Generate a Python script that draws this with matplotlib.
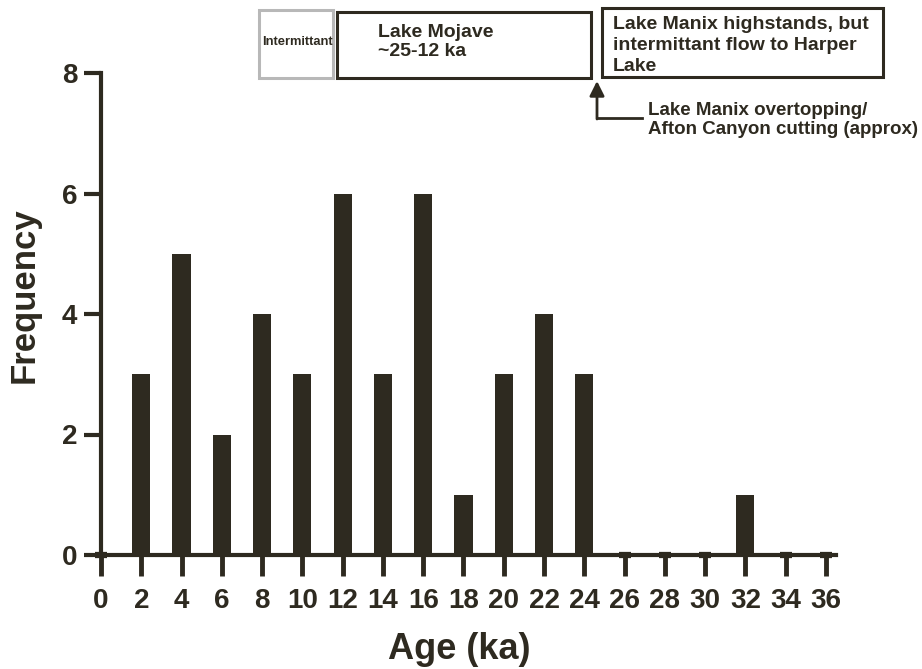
import matplotlib
matplotlib.use("Agg")
import matplotlib.pyplot as plt
from matplotlib.patches import Rectangle, FancyArrowPatch

plt.rcParams['font.family'] = ['Liberation Sans', 'DejaVu Sans']
plt.rcParams['font.weight'] = 'bold'

# Age bins (ka) and number of dated samples in each
ages = [0, 2, 4, 6, 8, 10, 12, 14, 16, 18, 20, 22, 24, 26, 28, 30, 32, 34, 36]
frequency = [0, 3, 5, 2, 4, 3, 6, 3, 6, 1, 3, 4, 3, 0, 0, 0, 1, 0, 0]
y_ticks = [0, 2, 4, 6, 8]

INK = '#2e2a20'
W, H = 922, 669
fig = plt.figure(figsize=(W / 100, H / 100), dpi=100)

left, right, top, bottom = 101, 836, 73, 555
ax = fig.add_axes([left / W, 1 - bottom / H, (right - left) / W, (bottom - top) / H])

# empty bins drawn as a thin stub on the baseline
widths = [0.9 if f else 0.6 for f in frequency]
lws = [0 if f else 4.5 for f in frequency]
ax.bar(ages, frequency, width=widths, color=INK, edgecolor=INK,
       linewidth=lws, clip_on=False, zorder=3)

ax.set_xlim(0, 36.5)
ax.set_ylim(0, 8)
ax.set_xticks(ages)
ax.set_yticks(y_ticks)

for s in ['top', 'right']:
    ax.spines[s].set_visible(False)
for s in ['left', 'bottom']:
    ax.spines[s].set_linewidth(3)
    ax.spines[s].set_color(INK)
    ax.spines[s].set_zorder(4)

ax.tick_params(axis='x', direction='out', length=15, width=3.5, color=INK,
               pad=9, labelsize=20, labelcolor=INK)
ax.tick_params(axis='y', direction='out', length=12, width=3, color=INK,
               pad=5, labelsize=20, labelcolor=INK)
for lab in ax.get_xticklabels() + ax.get_yticklabels():
    lab.set_fontweight('bold')

ax.set_xlabel('Age (ka)', fontsize=26, fontweight='bold', color=INK, labelpad=13)
ax.xaxis.label.set_x(0.487)
ax.set_ylabel('Frequency', fontsize=25, fontweight='bold', color=INK, labelpad=15)
ax.yaxis.label.set_y(0.539)


def fx(px):
    return px / W


def fy(py):
    return 1 - py / H


# Period boxes above the plot
boxes = [
    (259, 10, 333, 78, '#b8b8b8'),
    (337, 12, 591, 78, INK),
    (602, 8, 883, 77, INK),
]
for x0, y0, x1, y1, ec in boxes:
    fig.add_artist(Rectangle((fx(x0), fy(y1)), fx(x1) - fx(x0), fy(y0) - fy(y1),
                             transform=fig.transFigure, facecolor='white',
                             edgecolor=ec, linewidth=2.2))

fig.text(fx(262), fy(42), 'Intermittant', fontsize=9.3, fontweight='bold',
         color=INK, va='center', ha='left')
fig.text(fx(378), fy(42), 'Lake Mojave\n~25-12 ka', fontsize=14, fontweight='bold',
         color=INK, va='center', ha='left', linespacing=1.2)
fig.text(fx(613), fy(45.5), 'Lake Manix highstands, but\nintermittant flow to Harper\nLake',
         fontsize=14, fontweight='bold', color=INK, va='center', ha='left',
         linespacing=1.3)

# Overtopping marker
fig.add_artist(plt.Line2D([fx(597), fx(642)], [fy(118), fy(118)],
                          transform=fig.transFigure, color=INK, linewidth=2))
fig.add_artist(FancyArrowPatch((fx(597), fy(119)), (fx(597), fy(81)),
                               transform=fig.transFigure, arrowstyle='-|>',
                               mutation_scale=22, color=INK, linewidth=2,
                               shrinkA=0, shrinkB=0))
fig.text(fx(648), fy(120), 'Lake Manix overtopping/\nAfton Canyon cutting (approx)',
         fontsize=13.5, fontweight='bold', color=INK, va='center', ha='left',
         linespacing=1.2)

fig.savefig('out.png', dpi=100)
